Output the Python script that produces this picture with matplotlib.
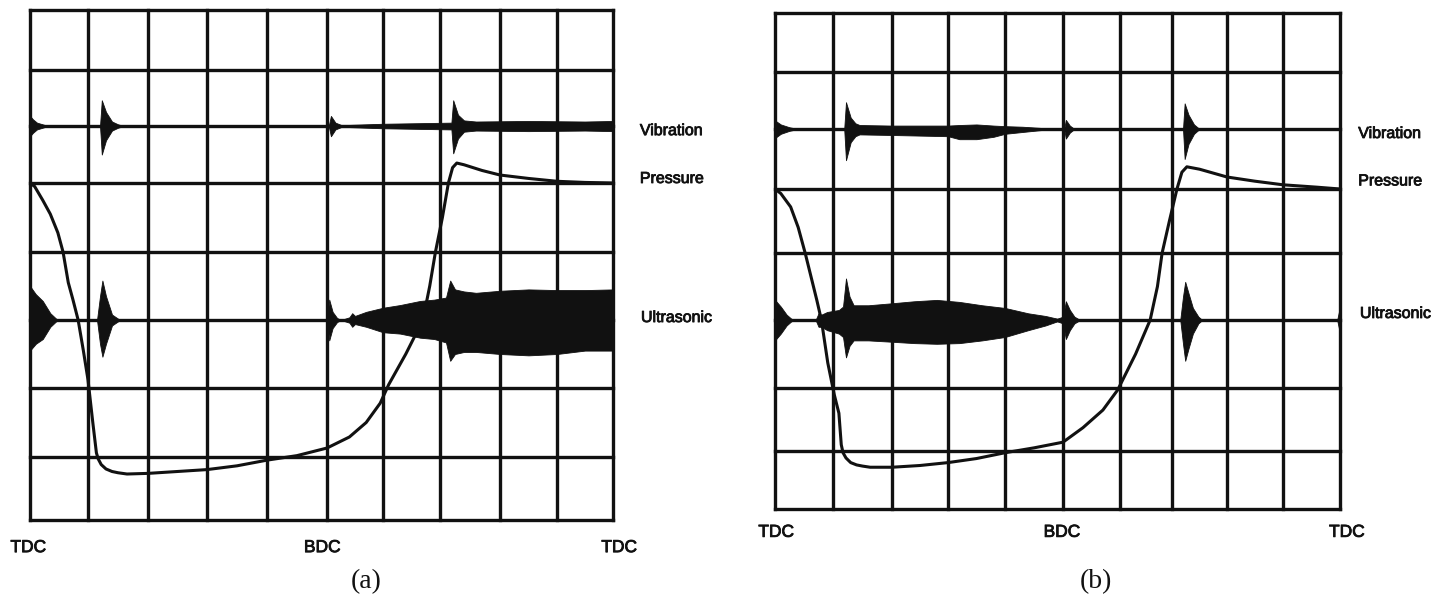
import numpy as np
import matplotlib
matplotlib.use('Agg')
from matplotlib import pyplot as plt
from matplotlib import patheffects as pe

W, H = 1447, 605

# screen position (px) of the graticule lines in the scanned traces,
# columns left->right, rows bottom->top (the photo is slightly warped)
COLS_A = [30, 88, 148, 207, 267, 327, 383, 440, 500, 557, 613]
ROWS_A = [520, 457, 388, 320, 252, 183, 126, 70, 10]
COLS_B = [775, 833, 892, 948, 1005, 1063, 1120, 1172, 1227, 1283, 1340]
ROWS_B = [509, 451, 388, 320, 253, 189, 129, 72, 13]

# trace baselines (divisions)
VIB_BASE, PRS_BASE, ULT_BASE = 6, 5, 3

# ---- panel (a) ----
PRS_A_X = [0, 0.08, 0.22, 0.35, 0.48, 0.57, 0.66, 0.74, 0.83, 0.92, 1.0, 1.08,
           1.14, 1.17, 1.22, 1.3, 1.4, 1.5, 1.65, 2.0, 2.5, 3.0, 3.5, 4.0, 4.5,
           5.0, 5.4, 5.7, 5.95, 6.1, 6.4, 6.7, 6.82, 6.92, 7.04, 7.14, 7.21,
           7.28, 7.4, 7.7, 8.0, 8.5, 9.0, 9.5, 10]
PRS_A_Y = [5.0, 4.95, 4.75, 4.55, 4.28, 4.0, 3.55, 3.3, 3.0, 2.55, 2.12, 1.5,
           1.06, 0.97, 0.88, 0.81, 0.77, 0.75, 0.73, 0.74, 0.77, 0.8, 0.86,
           0.95, 1.02, 1.13, 1.29, 1.5, 1.78, 2.05, 2.5, 3.0, 3.5, 4.0, 4.5,
           5.0, 5.27, 5.35, 5.32, 5.22, 5.14, 5.08, 5.03, 5.01, 5.0]

VIB_A_X = [0, 0.05, 0.12, 0.25, 0.4, 1.2, 1.23, 1.3, 1.4, 1.5, 1.6, 5.03, 5.07,
           5.15, 5.25, 5.4, 6.0, 7.19, 7.22, 7.3, 7.4, 7.6, 8.5, 9.5, 10]
VIB_A_UP = [0.18, 0.12, 0.06, 0.02, 0, 0, 0.46, 0.25, 0.08, 0.03, 0, 0, 0.18,
            0.06, 0.02, 0.02, 0.04, 0.06, 0.46, 0.2, 0.1, 0.08, 0.09, 0.08, 0.09]
VIB_A_DN = [0.18, 0.12, 0.06, 0.02, 0, 0, 0.5, 0.25, 0.08, 0.03, 0, 0, 0.18,
            0.06, 0.02, 0.02, 0.04, 0.06, 0.48, 0.22, 0.1, 0.08, 0.09, 0.08, 0.09]

ULT_A_X = [0, 0.1, 0.22, 0.35, 0.45, 0.5, 1.15, 1.2, 1.24, 1.3, 1.4, 1.5, 1.55,
           5.0, 5.04, 5.1, 5.18, 5.25, 5.4, 5.45, 5.5, 5.7, 6.0, 6.3, 6.65, 6.9,
           7.1, 7.17, 7.25, 7.4, 7.6, 8.0, 8.5, 9.0, 9.5, 10]
ULT_A_UP = [0.5, 0.38, 0.28, 0.1, 0.02, 0, 0, 0.35, 0.58, 0.35, 0.08, 0.02, 0,
            0, 0.3, 0.12, 0.03, 0, 0.04, 0.1, 0.06, 0.12, 0.18, 0.22, 0.28, 0.3,
            0.33, 0.58, 0.45, 0.42, 0.4, 0.43, 0.45, 0.44, 0.44, 0.45]
ULT_A_DN = [0.45, 0.35, 0.28, 0.1, 0.02, 0, 0, 0.35, 0.54, 0.35, 0.08, 0.02, 0,
            0, 0.3, 0.12, 0.03, 0, 0.04, 0.1, 0.06, 0.1, 0.18, 0.2, 0.26, 0.28,
            0.33, 0.6, 0.5, 0.47, 0.47, 0.5, 0.52, 0.5, 0.45, 0.45]

# ---- panel (b) ----
PRS_B_X = [0, 0.1, 0.27, 0.4, 0.52, 0.62, 0.72, 0.8, 0.91, 1.02, 1.1, 1.14,
           1.17, 1.22, 1.3, 1.4, 1.5, 1.63, 2.0, 2.5, 3.0, 3.5, 4.0, 4.5, 5.0,
           5.35, 5.7, 5.96, 6.3, 6.58, 6.72, 6.81, 6.95, 7.09, 7.18, 7.27, 7.5,
           8.0, 8.5, 9.0, 9.6, 10]
PRS_B_Y = [5.0, 4.93, 4.72, 4.4, 4.0, 3.65, 3.3, 3.0, 2.37, 1.9, 1.6, 1.1,
           0.97, 0.88, 0.8, 0.76, 0.74, 0.72, 0.72, 0.75, 0.8, 0.87, 0.97, 1.05,
           1.14, 1.37, 1.65, 1.97, 2.5, 3.0, 3.5, 4.0, 4.5, 5.0, 5.28, 5.37,
           5.33, 5.2, 5.13, 5.07, 5.03, 5.0]

VIB_B_X = [0, 0.1, 0.25, 0.4, 1.19, 1.22, 1.3, 1.38, 1.45, 2.0, 2.5, 3.0, 3.2,
           3.5, 3.8, 4.0, 4.3, 4.6, 4.85, 5.02, 5.05, 5.12, 5.2, 7.2, 7.23, 7.3,
           7.4, 7.5, 10]
VIB_B_UP = [0.15, 0.08, 0.03, 0, 0, 0.47, 0.2, 0.1, 0.07, 0.06, 0.06, 0.06,
            0.07, 0.08, 0.06, 0.05, 0.04, 0.02, 0, 0, 0.16, 0.06, 0, 0, 0.45,
            0.25, 0.08, 0, 0]
VIB_B_DN = [0.15, 0.08, 0.03, 0, 0, 0.52, 0.22, 0.12, 0.09, 0.1, 0.11, 0.12,
            0.17, 0.17, 0.13, 0.08, 0.05, 0.02, 0, 0, 0.16, 0.06, 0, 0, 0.5,
            0.25, 0.08, 0, 0]

ULT_B_X = [0, 0.1, 0.2, 0.28, 0.35, 0.7, 0.75, 0.8, 0.9, 1.1, 1.17, 1.22, 1.28,
           1.35, 1.6, 2.0, 2.4, 2.8, 3.2, 3.6, 4.0, 4.4, 4.7, 4.9, 5.0, 5.05,
           5.12, 5.2, 5.3, 7.15, 7.2, 7.24, 7.3, 7.38, 7.48, 7.55, 9.95, 10]
ULT_B_UP = [0.3, 0.2, 0.08, 0.02, 0, 0, 0.1, 0.08, 0.12, 0.15, 0.2, 0.62, 0.35,
            0.22, 0.22, 0.25, 0.28, 0.3, 0.27, 0.22, 0.18, 0.1, 0.06, 0.02,
            0.05, 0.28, 0.15, 0.05, 0, 0, 0.35, 0.57, 0.4, 0.18, 0.05, 0, 0, 0.2]
ULT_B_DN = [0.3, 0.2, 0.08, 0.02, 0, 0, 0.1, 0.1, 0.15, 0.2, 0.25, 0.55, 0.38,
            0.3, 0.3, 0.32, 0.34, 0.35, 0.34, 0.3, 0.25, 0.15, 0.08, 0.02,
            0.05, 0.28, 0.15, 0.05, 0, 0, 0.35, 0.6, 0.42, 0.2, 0.05, 0, 0, 0.2]

INK = '#111111'
SANS = 'Liberation Sans'
HEAVY = [pe.withStroke(linewidth=0.6, foreground=INK)]


def warp(px):
    # piecewise-linear division -> screen mapping, extrapolated at the ends
    px = np.asarray(px, float)
    idx = np.arange(len(px), dtype=float)

    def fwd(v):
        v = np.asarray(v, float)
        out = np.interp(v, idx, px)
        out = np.where(v < 0, px[0] + v * (px[1] - px[0]), out)
        out = np.where(v > idx[-1], px[-1] + (v - idx[-1]) * (px[-1] - px[-2]), out)
        return out

    def inv(p):
        p = np.asarray(p, float)
        out = np.interp(p, px, idx)
        out = np.where(p < px[0], (p - px[0]) / (px[1] - px[0]), out)
        out = np.where(p > px[-1], idx[-1] + (p - px[-1]) / (px[-1] - px[-2]), out)
        return out

    return fwd, inv


def burst(ax, base, xs, up, dn):
    xs = np.asarray(xs)
    ax.fill_between(xs, base + np.asarray(up), base - np.asarray(dn),
                    color=INK, lw=0.6)


def scope(fig, cols, rows):
    l, r = cols[0] / W, cols[-1] / W
    b, t = 1 - rows[0] / H, 1 - rows[-1] / H
    ax = fig.add_axes([l, b, r - l, t - b])
    ax.set_xscale('function', functions=warp(cols))
    ax.set_yscale('function', functions=warp([-p for p in rows]))
    ax.set_xlim(0, len(cols) - 1)
    ax.set_ylim(0, len(rows) - 1)
    ax.axis('off')
    for i in range(len(cols)):
        ax.axvline(i, color=INK, lw=2.4, clip_on=False)
    for j in range(len(rows)):
        ax.axhline(j, color=INK, lw=2.4, clip_on=False)
    return ax


fig = plt.figure(figsize=(W / 100, H / 100), dpi=100)

ax_a = scope(fig, COLS_A, ROWS_A)
burst(ax_a, VIB_BASE, VIB_A_X, VIB_A_UP, VIB_A_DN)
burst(ax_a, ULT_BASE, ULT_A_X, ULT_A_UP, ULT_A_DN)
ax_a.plot(PRS_A_X, PRS_A_Y, color=INK, lw=2.2, solid_joinstyle='round')

ax_b = scope(fig, COLS_B, ROWS_B)
burst(ax_b, VIB_BASE, VIB_B_X, VIB_B_UP, VIB_B_DN)
burst(ax_b, ULT_BASE, ULT_B_X, ULT_B_UP, ULT_B_DN)
ax_b.plot(PRS_B_X, PRS_B_Y, color=INK, lw=2.2, solid_joinstyle='round')

# channel names
lbl = dict(family=SANS, fontsize=11.5, color=INK, ha='left', va='baseline',
           path_effects=HEAVY)
ax_a.text(10.48, 5.84, 'Vibration', **lbl)
ax_a.text(10.48, 5.0, 'Pressure', **lbl)
ax_a.text(10.5, 2.97, 'Ultrasonic', **lbl)
ax_b.text(10.32, 5.85, 'Vibration', **lbl)
ax_b.text(10.32, 5.06, 'Pressure', **lbl)
ax_b.text(10.35, 3.03, 'Ultrasonic', **lbl)

# crank positions
pos = dict(family=SANS, fontsize=12.5, color=INK, ha='center', va='baseline',
           path_effects=HEAVY)
for x, s in [(-0.03, 'TDC'), (4.92, 'BDC'), (10.11, 'TDC')]:
    ax_a.text(x, -0.51, s, **pos)
for x, s in [(0.02, 'TDC'), (4.98, 'BDC'), (10.12, 'TDC')]:
    ax_b.text(x, -0.48, s, **pos)

cap = dict(family='Liberation Serif', fontsize=20, color=INK,
           ha='center', va='center')
fig.text(366 / W, 1 - 582 / H, '(a)', **cap)
fig.text(1096 / W, 1 - 582 / H, '(b)', **cap)

fig.savefig('out.png', dpi=100, facecolor='white')
